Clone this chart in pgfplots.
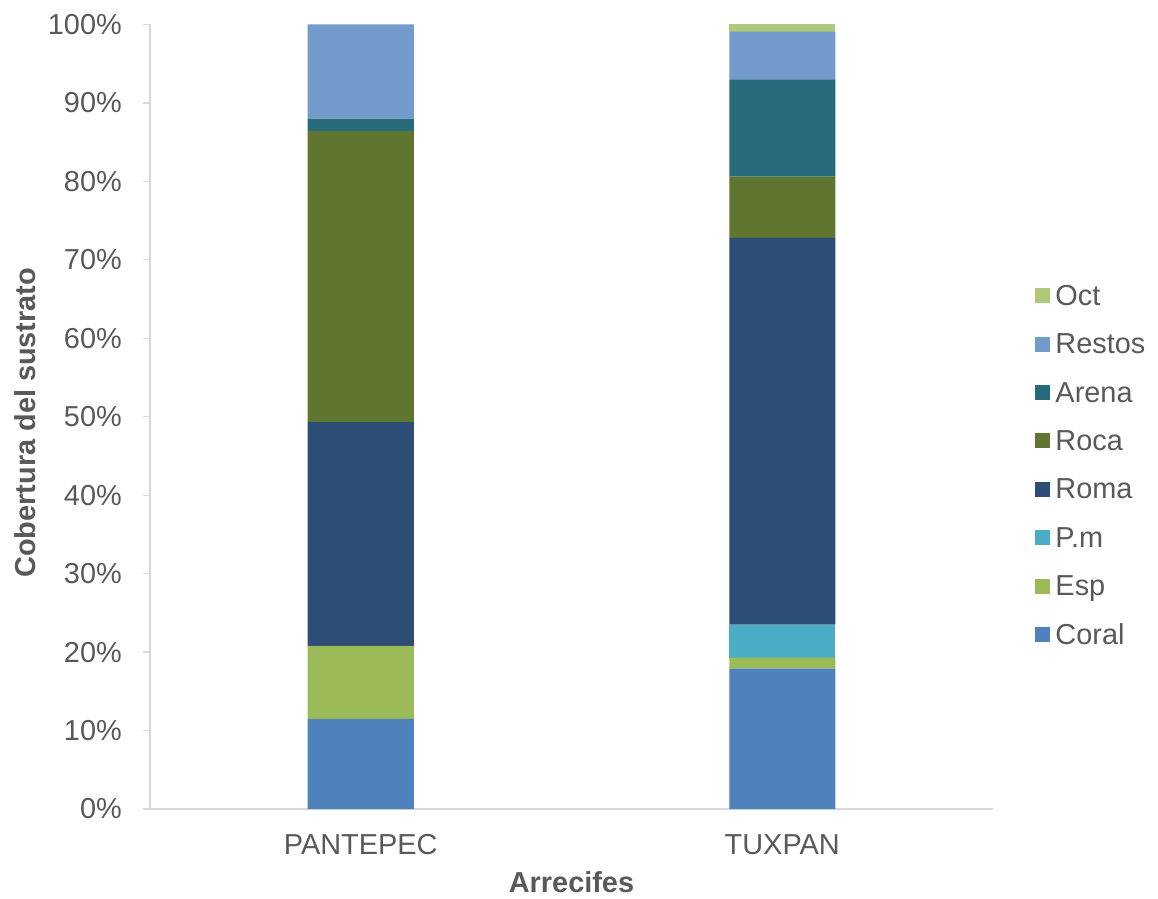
\documentclass[border=0pt]{standalone}
\usepackage{pgfplots}
\pgfplotsset{compat=1.18}
\usepackage{pgfplotstable}
\usepackage{fontspec}
\setmainfont{Liberation Sans}
\definecolor{cCoral}{HTML}{4F81BD}
\definecolor{cEsp}{HTML}{9BBB59}
\definecolor{cPm}{HTML}{4BACC6}
\definecolor{cRoma}{HTML}{2C4D75}
\definecolor{cRoca}{HTML}{5F7530}
\definecolor{cArena}{HTML}{276A7C}
\definecolor{cRestos}{HTML}{729ACA}
\definecolor{cOct}{HTML}{AFC97A}
\definecolor{tg}{HTML}{595959}
\definecolor{axc}{HTML}{D9D9D9}
\pgfplotstableread{
x Coral Esp Pm Roma Roca Arena Restos Oct
0 11.5 9.3 0 28.5 37.1 1.6 12.0 0
1 17.9 1.4 4.2 49.3 7.8 12.4 6.1 0.9
}\data
\begin{document}
\begin{tikzpicture}
\useasboundingbox (-150bp,-90bp) rectangle (1008bp,809bp);
\begin{axis}[
  at={(0,0)}, anchor=south west,
  scale only axis, width=843bp, height=784.5bp,
  ybar stacked, bar width=106bp,
  xmin=-0.5, xmax=1.5, ymin=0, ymax=100,
  xtick=data, xticklabels={PANTEPEC,TUXPAN},
  ytick={0,10,...,100},
  yticklabel={\pgfmathprintnumber{\tick}\%},
  /pgf/number format/assume math mode=true,
  axis lines*=left,
  axis line style={axc, line width=1.2bp},
  tick align=outside,
  major tick length=7bp,
  ytick style={axc, line width=1.2bp},
  xtick style={draw=none},
  ticklabel style={font=\fontsize{29}{29}\selectfont, text=tg},
  yticklabel style={inner sep=0pt, anchor=east, xshift=-21bp},
  xticklabel style={inner sep=0pt, anchor=north, yshift=-18bp},
  xlabel={Arrecifes},
  ylabel={Cobertura del sustrato},
  xlabel style={font=\fontsize{29}{29}\selectfont\bfseries, text=tg, at={(axis description cs:0.5,0)}, anchor=center, yshift=-73bp},
  ylabel style={font=\fontsize{29}{29}\selectfont\bfseries, text=tg, at={(axis description cs:0,0.5)}, anchor=center, yshift=125bp, xshift=-6bp},
  reverse legend,
  legend cell align=left,
  legend style={draw=none, fill=none, inner sep=0pt, outer sep=0pt,
    at={(axis description cs:1.0498,0.4357)}, anchor=west,
    row sep=21.4bp, column sep=5.5bp,
    font=\fontsize{29}{29}\selectfont, text=tg,
    nodes={inner sep=0pt, text height=21bp, text depth=6bp}},
  legend image code/.code={\fill[#1] (0bp,-5.5bp) rectangle (15bp,9.5bp);},
  every axis plot/.append style={draw=none},
]
\addplot[fill=cCoral] table[x=x,y=Coral]{\data};
\addplot[fill=cEsp] table[x=x,y=Esp]{\data};
\addplot[fill=cPm] table[x=x,y=Pm]{\data};
\addplot[fill=cRoma] table[x=x,y=Roma]{\data};
\addplot[fill=cRoca] table[x=x,y=Roca]{\data};
\addplot[fill=cArena] table[x=x,y=Arena]{\data};
\addplot[fill=cRestos] table[x=x,y=Restos]{\data};
\addplot[fill=cOct] table[x=x,y=Oct]{\data};
\legend{Coral,Esp,P.m,Roma,Roca,Arena,Restos,Oct}
\end{axis}
\end{tikzpicture}
\end{document}
